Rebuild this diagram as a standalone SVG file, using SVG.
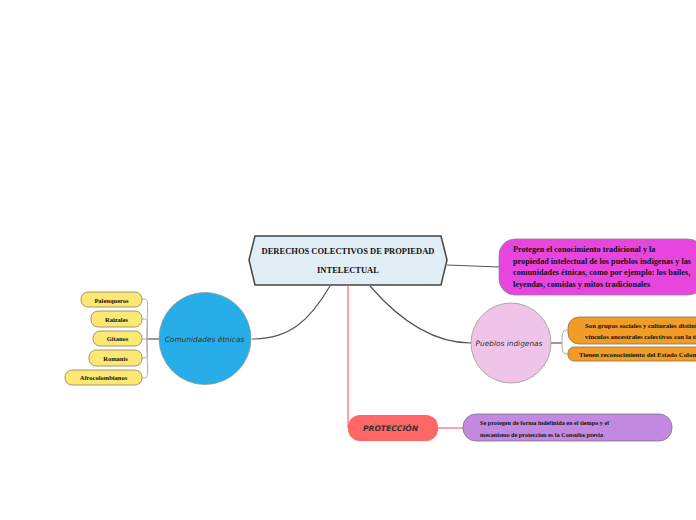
<svg xmlns="http://www.w3.org/2000/svg" width="696" height="520" viewBox="0 0 696 520">
<style>
.t{font-family:"Liberation Serif",serif;font-weight:bold;fill:#111}
.h{font-family:"DejaVu Sans","Liberation Sans",sans-serif;font-style:italic;fill:#333}
.c{fill:none;stroke:#555;stroke-width:1.2}
.g{fill:none;stroke:#aaa;stroke-width:1}
.y{fill:#fde874;stroke:#8a8060;stroke-width:0.8}
.o{fill:#f09c26;stroke:#8a7050;stroke-width:0.8}
</style>
<rect width="696" height="520" fill="#fff"/>
<g id="connectors">
<path class="c" d="M330,286 C310,320 290,339 252,339"/>
<path class="c" d="M370,286 C395,315 430,343 471,343"/>
<path class="c" d="M447,265 L499,267"/>
<path d="M348,286 L348,428" fill="none" stroke="#ff6666" stroke-width="1.2"/>
<path d="M437,428 L463,428" fill="none" stroke="#ff6666" stroke-width="1.2"/>
<path class="c" d="M159,339 L147,339"/>
<path class="g" d="M147,339 C147,300 150,299 142,299"/>
<path class="g" d="M147,339 C147,320 150,319 142,319"/>
<path class="g" d="M147,339 L142,339"/>
<path class="g" d="M147,339 C147,358 150,358 142,358"/>
<path class="g" d="M147,339 C147,378 150,378 142,378"/>
<path class="c" d="M551,343 L562,343"/>
<path class="g" d="M562,343 C562,331 563,330 568,330"/>
<path class="g" d="M562,343 C562,352 563,354 568,354"/>
</g>
<g id="central">
<polygon points="255,236 441,236 447,260 441,285 255,285 249,260" fill="#e2eef5" stroke="#444" stroke-width="1.5"/>
<text class="t" x="348" y="254" font-size="8.5" text-anchor="middle">DERECHOS COLECTIVOS DE PROPIEDAD</text>
<text class="t" x="348" y="273" font-size="8.5" text-anchor="middle">INTELECTUAL</text>
</g>
<g id="magenta">
<rect x="499" y="239" width="205" height="56" rx="16" fill="#e845de" stroke="#888" stroke-width="0.8"/>
<text class="t" x="513" y="252" font-size="8.2">Protegen el conocimiento tradicional y la</text>
<text class="t" x="513" y="263.5" font-size="8.2">propiedad intelectual de los pueblos indigenas y las</text>
<text class="t" x="513" y="275" font-size="8.2">comunidades étnicas, como por ejemplo: los bailes,</text>
<text class="t" x="513" y="286.5" font-size="8.2">leyendas, comidas y mitos tradicionales</text>
</g>
<g id="pueblos">
<circle cx="511" cy="343" r="40" fill="#f0c4e8" stroke="#999" stroke-width="0.8"/>
<text class="h" x="509" y="345.5" font-size="7.4" text-anchor="middle">Pueblos indigenas</text>
</g>
<g id="orange1">
<rect class="o" x="568" y="317" width="150" height="27" rx="11"/>
<text class="t" x="585" y="327.5" font-size="6.8">Son grupos sociales y culturales distintos</text>
<text class="t" x="585" y="339" font-size="6.8">vínculos ancestrales colectivos con la tierra</text>
</g>
<g id="orange2">
<rect class="o" x="568" y="347" width="150" height="14" rx="6"/>
<text class="t" x="579" y="357" font-size="6.8">Tienen reconocimiento del Estado Colombiano</text>
</g>
<g id="comunidades">
<circle cx="205" cy="338.5" r="46" fill="#27aee9" stroke="#999" stroke-width="0.8"/>
<text class="h" x="204.5" y="341.5" font-size="7.4" text-anchor="middle">Comunidades étnicas</text>
</g>
<g id="palenqueros">
<rect class="y" x="81" y="292" width="61" height="15" rx="7"/>
<text class="t" x="111.5" y="302.5" font-size="6.5" text-anchor="middle">Palenqueros</text>
</g>
<g id="raizales">
<rect class="y" x="91" y="311" width="51" height="16" rx="7"/>
<text class="t" x="116.5" y="321.5" font-size="6.5" text-anchor="middle">Raizales</text>
</g>
<g id="gitanos">
<rect class="y" x="93" y="331" width="49" height="15" rx="7"/>
<text class="t" x="117.5" y="341" font-size="6.5" text-anchor="middle">Gitanos</text>
</g>
<g id="romanis">
<rect class="y" x="89" y="350" width="53" height="16" rx="7"/>
<text class="t" x="115.5" y="360.5" font-size="6.5" text-anchor="middle">Romanis</text>
</g>
<g id="afro">
<rect class="y" x="65" y="370" width="77" height="15" rx="7"/>
<text class="t" x="103.5" y="380" font-size="6.5" text-anchor="middle">Afrocolombianos</text>
</g>
<g id="proteccion">
<rect x="348" y="415" width="90" height="26" rx="12" fill="#ff6666"/>
<text class="h" x="363" y="431" font-size="7.6" font-weight="bold" fill="#111">PROTECCIÓN</text>
</g>
<g id="purple">
<rect x="463" y="414" width="209" height="27" rx="13" fill="#c389e0" stroke="#777" stroke-width="0.8"/>
<text class="t" x="480" y="425" font-size="6.2">Se protegen de forma indefinida en el tiempo y el</text>
<text class="t" x="480" y="437" font-size="6.2">mecanismo de proteccion es la Consulta previa</text>
</g>
</svg>
